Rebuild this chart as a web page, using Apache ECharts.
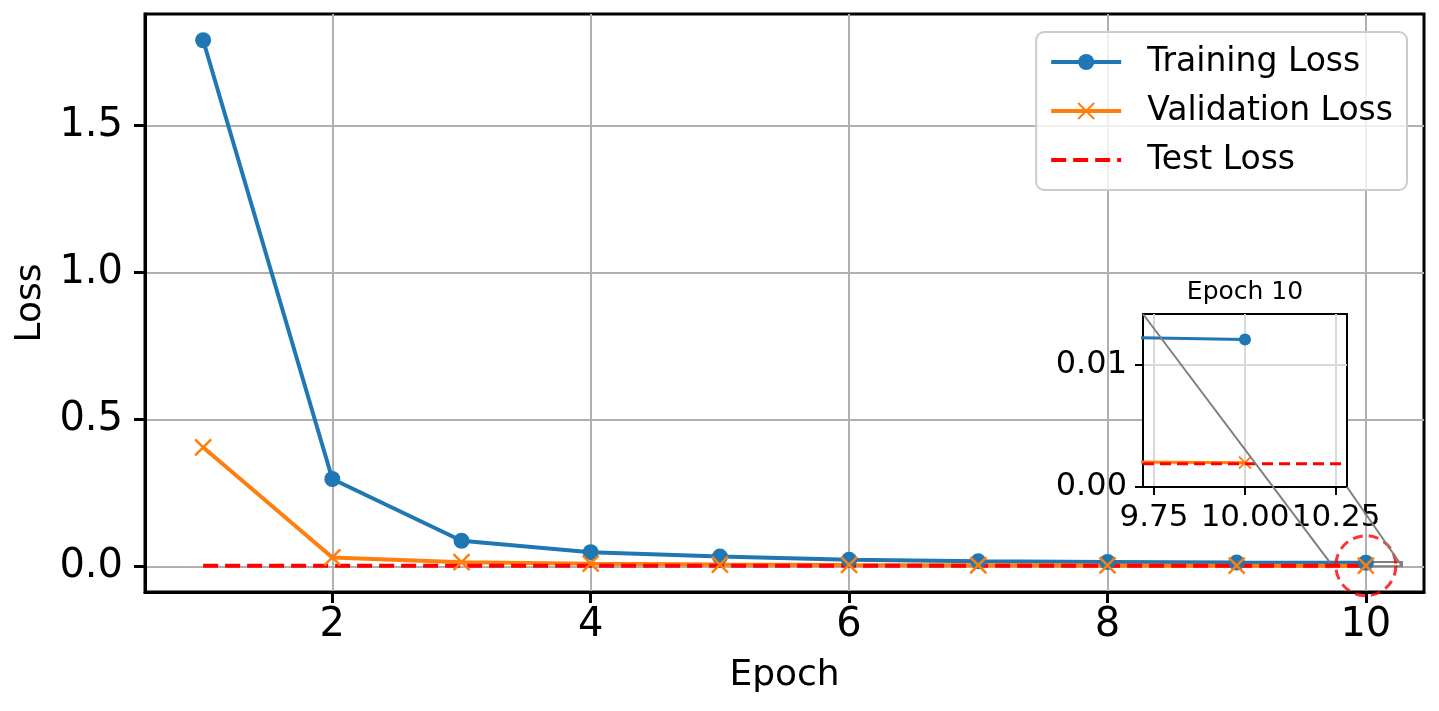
<!DOCTYPE html>
<html>
<head>
<meta charset="utf-8">
<script src="https://cdn.jsdelivr.net/npm/echarts@6/dist/echarts.min.js"></script>
<style>
html, body { margin: 0; padding: 0; background: #fff; }
#chart { width: 1439px; height: 711px; }
</style>
</head>
<body>
<div id="chart"></div>
<script>
'use strict';
// data
const epochs = [1, 2, 3, 4, 5, 6, 7, 8, 9, 10];
const trainLoss = [1.790, 0.297, 0.087, 0.048, 0.033, 0.022, 0.017, 0.0145, 0.0126, 0.0121];
const valLoss = [0.405, 0.030, 0.014, 0.009, 0.006, 0.0045, 0.0035, 0.0028, 0.0022, 0.0020];
const testLoss = 0.0019;

const xTicks = [2, 4, 6, 8, 10];
const yTicks = [0, 0.5, 1.0, 1.5];
const insetXTicks = [9.75, 10.0, 10.25];
const insetYTicks = [0, 0.01];
const insetXRange = [9.72, 10.28];
const insetYRange = [0, 0.0142];
const focusEpoch = 10;

const FONT = 'DejaVu Sans';
const BLUE = '#1f77b4';
const ORANGE = '#ff7f0e';
const RED = '#ff0000';
const X_PATH = 'path://M0,0L16,16M16,0L0,16';

// matplotlib style 5% auto margins
function padRange(vals) {
    const lo = Math.min(...vals), hi = Math.max(...vals);
    const m = (hi - lo) * 0.05;
    return [lo - m, hi + m];
}
const xRange = padRange(epochs);
const yRange = padRange(trainLoss.concat(valLoss, [testLoss]));

const trainPts = epochs.map((e, i) => [e, trainLoss[i]]);
const valPts = epochs.map((e, i) => [e, valLoss[i]]);
const testPts = epochs.map((e) => [e, testLoss]);
// inset test loss spans the whole inset (horizontal line)
const testInsetPts = insetXRange.map((x) => [x, testLoss]);

function valueAxis(gridIndex, range, ticks, fontSize, margin, digits, tickLen, lineW, splitColor) {
    return {
        type: 'value',
        gridIndex: gridIndex,
        min: range[0],
        max: range[1],
        axisLine: { show: true, onZero: false, lineStyle: { color: '#000', width: lineW } },
        axisTick: { show: true, length: tickLen, customValues: ticks, lineStyle: { color: '#000', width: lineW } },
        axisLabel: {
            customValues: ticks,
            hideOverlap: false,
            fontSize: fontSize,
            fontFamily: FONT,
            color: '#000',
            margin: margin,
            formatter: (v) => v.toFixed(digits),
        },
        splitLine: { show: true, lineStyle: { color: splitColor, width: 2 } },
    };
}

const chart = echarts.init(document.getElementById('chart'));

const option = {
    animation: false,
    backgroundColor: '#fff',
    grid: [
        { left: 145, right: 15, top: 14, bottom: 119, show: true, borderColor: '#000', borderWidth: 3, backgroundColor: '#fff' },
        { left: 1143, top: 314, width: 204, height: 173, show: true, borderColor: '#000', borderWidth: 2, backgroundColor: '#fff', z: 10 },
    ],
    xAxis: [
        Object.assign(valueAxis(0, xRange, xTicks, 40, 14, 0, 11, 3, '#b0b0b0'), {
            name: 'Epoch', nameLocation: 'middle', nameGap: 66,
            nameTextStyle: { fontSize: 36, fontFamily: FONT, color: '#000' },
        }),
        Object.assign(valueAxis(1, insetXRange, insetXTicks, 31, 15, 2, 8, 2, '#d9d9d9'), { z: 10 }),
    ],
    yAxis: [
        Object.assign(valueAxis(0, yRange, yTicks, 40, 22, 1, 11, 3, '#b0b0b0'), {
            name: 'Loss', nameLocation: 'middle', nameGap: 92, nameRotate: 90,
            nameTextStyle: { fontSize: 36, fontFamily: FONT, color: '#000' },
        }),
        Object.assign(valueAxis(1, insetYRange, insetYTicks, 32, 16, 2, 8, 2, '#d9d9d9'), { z: 10 }),
    ],
    legend: {
        orient: 'vertical',
        right: 32,
        top: 32,
        padding: [13, 14, 13, 13],
        itemWidth: 70,
        itemHeight: 20,
        itemGap: 15,
        backgroundColor: 'rgba(255,255,255,0.8)',
        borderColor: '#cccccc',
        borderWidth: 2,
        borderRadius: 8,
        lineStyle: { width: 4 },
        textStyle: { fontSize: 33, fontFamily: FONT, color: '#000', lineHeight: 34, padding: [0, 0, 0, 21] },
        data: [
            { name: 'Training Loss' },
            { name: 'Validation Loss' },
            { name: 'Test Loss', itemStyle: { opacity: 0 } },
        ],
        z: 20,
    },
    series: [
        {
            name: 'Training Loss', type: 'line', xAxisIndex: 0, yAxisIndex: 0,
            data: trainPts, symbol: 'circle', symbolSize: 16, showAllSymbol: true,
            lineStyle: { color: BLUE, width: 4 }, itemStyle: { color: BLUE },
            markArea: {
                silent: true,
                itemStyle: { color: 'rgba(0,0,0,0)', borderColor: '#808080', borderWidth: 2 },
                data: [[{ coord: [insetXRange[0], insetYRange[1]] }, { coord: [insetXRange[1], insetYRange[0]] }]],
            },
        },
        {
            name: 'Validation Loss', type: 'line', xAxisIndex: 0, yAxisIndex: 0,
            data: valPts, symbol: X_PATH, symbolSize: 16, showAllSymbol: true,
            lineStyle: { color: ORANGE, width: 4 },
            itemStyle: { color: ORANGE, borderColor: ORANGE, borderWidth: 2.5 },
        },
        {
            name: 'Test Loss', type: 'line', xAxisIndex: 0, yAxisIndex: 0,
            data: testPts, symbol: 'none',
            lineStyle: { color: RED, width: 4, type: [15, 7] }, itemStyle: { color: RED },
        },
        {
            name: 'focus', type: 'scatter', xAxisIndex: 0, yAxisIndex: 0,
            data: [[focusEpoch, testLoss]], symbol: 'circle', symbolSize: 60, silent: true,
            itemStyle: { color: 'rgba(0,0,0,0)', borderColor: RED, borderWidth: 3, borderType: [10, 6] },
            z: 5,
        },
        // inset
        {
            name: 'Training Loss (inset)', type: 'line', xAxisIndex: 1, yAxisIndex: 1,
            data: trainPts, symbol: 'circle', symbolSize: 12, showAllSymbol: true,
            lineStyle: { color: BLUE, width: 3 }, itemStyle: { color: BLUE }, z: 11,
        },
        {
            name: 'Validation Loss (inset)', type: 'line', xAxisIndex: 1, yAxisIndex: 1,
            data: valPts, symbol: 'path://M0,0L12,12M12,0L0,12', symbolSize: 12, showAllSymbol: true,
            lineStyle: { color: ORANGE, width: 3 },
            itemStyle: { color: ORANGE, borderColor: ORANGE, borderWidth: 2 }, z: 11,
        },
        {
            name: 'Test Loss (inset)', type: 'line', xAxisIndex: 1, yAxisIndex: 1,
            data: testInsetPts, symbol: 'none', z: 12,
            lineStyle: { color: RED, width: 3, type: [11, 6] },
        },
    ],
};

chart.setOption(option);

// connector lines and inset title, placed from the axes
const insetTL = chart.convertToPixel({ gridIndex: 1 }, [insetXRange[0], insetYRange[1]]);
const insetBR = chart.convertToPixel({ gridIndex: 1 }, [insetXRange[1], insetYRange[0]]);
const boxTL = chart.convertToPixel({ gridIndex: 0 }, [insetXRange[0], insetYRange[1]]);
const boxBR = chart.convertToPixel({ gridIndex: 0 }, [insetXRange[1], insetYRange[0]]);
const insetMid = (insetTL[0] + insetBR[0]) / 2;

chart.setOption({
    graphic: [
        {
            type: 'line', z: 30, silent: true,
            shape: { x1: insetTL[0], y1: insetTL[1], x2: boxTL[0], y2: boxTL[1] },
            style: { stroke: '#808080', lineWidth: 2 },
        },
        {
            type: 'line', z: 30, silent: true,
            shape: { x1: insetBR[0], y1: insetBR[1], x2: boxBR[0], y2: boxBR[1] },
            style: { stroke: '#808080', lineWidth: 2 },
        },
        {
            type: 'text', z: 30, silent: true,
            x: insetMid, y: insetTL[1] - 9,
            style: { text: 'Epoch ' + focusEpoch, fontSize: 25, fontFamily: FONT, fill: '#000', align: 'center', verticalAlign: 'bottom' },
        },
    ],
});
</script>
</body>
</html>
